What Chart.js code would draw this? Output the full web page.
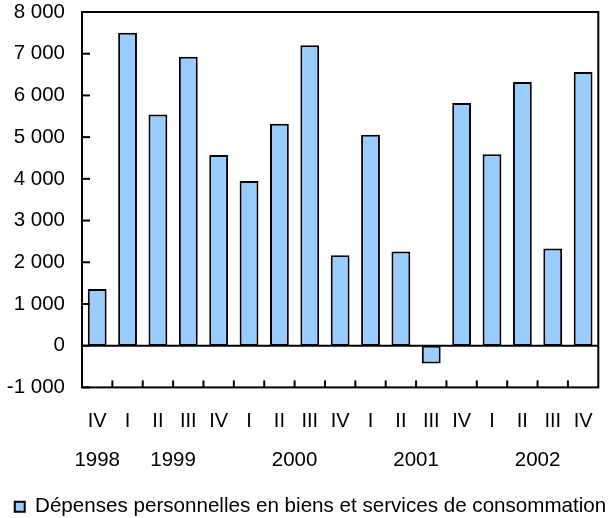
<!DOCTYPE html>
<html>
<head>
<meta charset="utf-8">
<script src="https://cdn.jsdelivr.net/npm/chart.js@4/dist/chart.umd.min.js"></script>
<style>
html,body{margin:0;padding:0;background:#fff;}
canvas{display:block;}
</style>
</head>
<body>
<canvas id="c" width="615" height="518"></canvas>
<script>
const quarters = ["IV","I","II","III","IV","I","II","III","IV","I","II","III","IV","I","II","III","IV"];
const years = ["1998","1999","2000","2001","2002"];
const yearGroupStart = [0, 1, 5, 9, 13];
const yearGroupEnd = [0, 4, 8, 12, 16];
const depenses = [1360, 7500, 5540, 6930, 4570, 3950, 5320, 7200, 2170, 5060, 2260, -430, 5820, 4590, 6320, 2330, 6560];
const seriesName = "Dépenses personnelles en biens et services de consommation";
const yTicks = [-1000, 0, 1000, 2000, 3000, 4000, 5000, 6000, 7000, 8000];

const FONT = "'Liberation Sans', Arial, sans-serif";

function fmt(v){
  const s = String(Math.abs(v)).replace(/\B(?=(\d{3})+(?!\d))/g, ' ');
  return (v < 0 ? '-' : '') + s;
}

const framePlugin = {
  id: 'frame',
  afterDatasetsDraw(chart){
    const {ctx, chartArea: a, scales:{x, y}} = chart;
    ctx.save();
    ctx.strokeStyle = '#000';
    ctx.lineWidth = 2;
    ctx.strokeRect(a.left, a.top, a.right - a.left, a.bottom - a.top);
    const y0 = y.getPixelForValue(0);
    ctx.beginPath();
    ctx.moveTo(a.left, y0); ctx.lineTo(a.right, y0);
    ctx.stroke();
    yTicks.forEach(v => {
      const py = y.getPixelForValue(v);
      ctx.beginPath(); ctx.moveTo(a.left, py); ctx.lineTo(a.left + 8, py); ctx.stroke();
    });
    for (let i = 1; i < quarters.length; i++) {
      const px = (x.getPixelForValue(i - 1) + x.getPixelForValue(i)) / 2;
      ctx.beginPath(); ctx.moveTo(px, a.bottom); ctx.lineTo(px, a.bottom - 7); ctx.stroke();
    }
    ctx.fillStyle = '#000';
    ctx.font = '20.5px ' + FONT;
    ctx.textAlign = 'center';
    ctx.textBaseline = 'middle';
    years.forEach((yr, k) => {
      const px = (x.getPixelForValue(yearGroupStart[k]) + x.getPixelForValue(yearGroupEnd[k])) / 2;
      ctx.fillText(yr, px, a.bottom + 73);
    });
    ctx.restore();
  }
};

new Chart(document.getElementById('c'), {
  type: 'bar',
  data: {
    labels: quarters,
    datasets: [{
      label: seriesName,
      data: depenses,
      backgroundColor: '#99CCFF',
      borderColor: '#000',
      borderWidth: 2,
      borderSkipped: false,
      categoryPercentage: 1.0,
      barPercentage: 0.62
    }]
  },
  options: {
    responsive: false,
    animation: false,
    devicePixelRatio: 1,
    layout: { padding: { top: 12, right: 0, left: 6, bottom: -9 } },
    plugins: {
      legend: {
        position: 'bottom',
        labels: {
          boxWidth: 10, boxHeight: 10, color: '#000',
          font: { size: 20.6, family: FONT },
          padding: 1
        }
      },
      tooltip: { enabled: false }
    },
    scales: {
      x: {
        offset: true,
        grid: { display: false, drawTicks: false },
        border: { display: false },
        ticks: { color: '#000', font: { size: 20, family: FONT }, padding: 22, maxRotation: 0, autoSkip: false },
        afterFit(s){ s.height = 108; }
      },
      y: {
        min: -1000, max: 8000,
        grid: { display: false, drawTicks: false },
        border: { display: false },
        ticks: { stepSize: 1000, color: '#000', font: { size: 20.5, family: FONT }, padding: 17, callback: v => fmt(v) },
        afterFit(s){ s.width = 76; s.paddingTop = 0; s.paddingBottom = 0; }
      },
      yRight: {
        type: 'linear',
        position: 'right',
        grid: { display: false, drawTicks: false },
        border: { display: false },
        ticks: { display: false },
        afterFit(s){ s.width = 15; s.paddingTop = 0; s.paddingBottom = 0; }
      }
    }
  },
  plugins: [framePlugin]
});
</script>
</body>
</html>
